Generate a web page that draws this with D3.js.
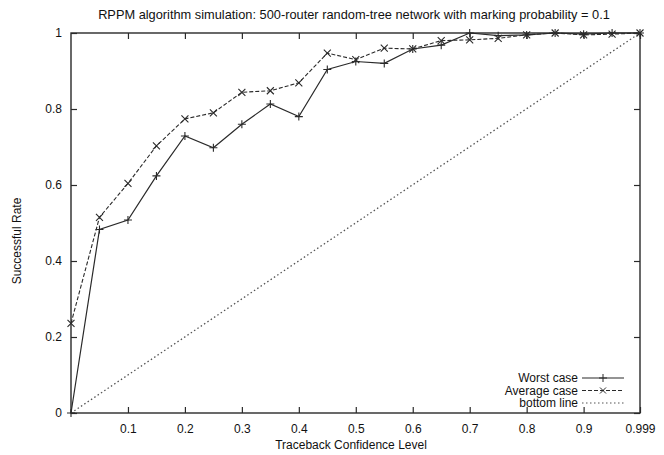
<!DOCTYPE html>
<html>
<head>
<meta charset="utf-8">
<script src="https://cdn.jsdelivr.net/npm/d3@7"></script>
<style>
  body { margin: 0; background: #fff; }
  svg { display: block; font-family: "Liberation Sans", Arial, sans-serif; }
</style>
</head>
<body>
<div id="chart"></div>
<script>
// confidence levels (x) and success rates
const levels = [0, 0.05, 0.1, 0.15, 0.2, 0.25, 0.3, 0.35, 0.4, 0.45, 0.5, 0.55, 0.6, 0.65, 0.7, 0.75, 0.8, 0.85, 0.9, 0.95, 0.999];
const worstCase = [0, 0.483, 0.508, 0.624, 0.729, 0.698, 0.76, 0.813, 0.78, 0.904, 0.925, 0.92, 0.958, 0.968, 1.0, 0.993, 0.995, 1.0, 0.997, 1.0, 1.0];
const averageCase = [0.236, 0.515, 0.604, 0.703, 0.774, 0.79, 0.844, 0.848, 0.869, 0.947, 0.93, 0.96, 0.958, 0.98, 0.982, 0.986, 0.995, 1.0, 0.995, 0.997, 1.0];
const bottomLine = [[0, 0], [0.999, 1]];
const xTicks = [0.1, 0.2, 0.3, 0.4, 0.5, 0.6, 0.7, 0.8, 0.9, 0.999];
const yTicks = [0, 0.2, 0.4, 0.6, 0.8, 1];

const W = 664, H = 455;
const margin = { top: 33, right: 24, bottom: 42, left: 71 };
const w = W - margin.left - margin.right;
const h = H - margin.top - margin.bottom;
const ink = '#2a2a2a';
const fs = 12;

const svg = d3.select('#chart').append('svg')
  .attr('width', W).attr('height', H)
  .attr('viewBox', `0 0 ${W} ${H}`);

const g = svg.append('g').attr('transform', `translate(${margin.left},${margin.top})`);

const x = d3.scaleLinear().domain([0, 0.999]).range([0, w]);
const y = d3.scaleLinear().domain([0, 1]).range([h, 0]);

// axes: ticks point inward, mirrored on top/right
function styleAxis(sel) {
  sel.select('.domain').remove();
  sel.selectAll('line').attr('stroke', ink).attr('stroke-width', 1.2);
  sel.selectAll('text').attr('fill', '#111').attr('font-size', fs);
}
g.append('g').attr('transform', `translate(0,${h})`)
  .call(d3.axisBottom(x).tickValues(xTicks).tickFormat(d => d === 0.999 ? '0.999' : d3.format('.1f')(d))
    .tickSizeInner(-6).tickSizeOuter(0).tickPadding(11))
  .call(styleAxis);
g.append('g')
  .call(d3.axisTop(x).tickValues(xTicks).tickFormat('').tickSizeInner(-6).tickSizeOuter(0))
  .call(styleAxis);
g.append('g')
  .call(d3.axisLeft(y).tickValues(yTicks).tickFormat(d => d === 0 || d === 1 ? String(d) : d3.format('.1f')(d))
    .tickSizeInner(-6).tickSizeOuter(0).tickPadding(9))
  .call(styleAxis);
g.append('g').attr('transform', `translate(${w},0)`)
  .call(d3.axisRight(y).tickValues(yTicks).tickFormat('').tickSizeInner(-6).tickSizeOuter(0))
  .call(styleAxis);

g.append('rect').attr('width', w).attr('height', h)
  .attr('fill', 'none').attr('stroke', ink).attr('stroke-width', 1.4);

const line = d3.line().x(d => x(d[0])).y(d => y(d[1]));

// bottom line
g.append('path').datum(bottomLine)
  .attr('fill', 'none').attr('stroke', '#555').attr('stroke-width', 1.3)
  .attr('stroke-dasharray', '1.5,2.5').attr('d', line);

// average case (dashed, x markers)
const avgPts = levels.map((l, i) => [l, averageCase[i]]);
g.append('path').datum(avgPts)
  .attr('fill', 'none').attr('stroke', ink).attr('stroke-width', 1.1)
  .attr('stroke-dasharray', '4,2').attr('d', line);
const ms = 3.5;
g.append('g').selectAll('path').data(avgPts).enter().append('path')
  .attr('stroke', ink).attr('stroke-width', 1.1)
  .attr('d', d => `M${x(d[0]) - ms},${y(d[1]) - ms}L${x(d[0]) + ms},${y(d[1]) + ms}M${x(d[0]) - ms},${y(d[1]) + ms}L${x(d[0]) + ms},${y(d[1]) - ms}`);

// worst case (solid, + markers)
const worstPts = levels.map((l, i) => [l, worstCase[i]]);
g.append('path').datum(worstPts)
  .attr('fill', 'none').attr('stroke', ink).attr('stroke-width', 1.2).attr('d', line);
g.append('g').selectAll('path').data(worstPts).enter().append('path')
  .attr('stroke', ink).attr('stroke-width', 1.1)
  .attr('d', d => `M${x(d[0]) - 4},${y(d[1])}L${x(d[0]) + 4},${y(d[1])}M${x(d[0])},${y(d[1]) - 4}L${x(d[0])},${y(d[1]) + 4}`);

// legend
const legend = [
  { label: 'Worst case', dash: null, mark: 'plus' },
  { label: 'Average case', dash: '4,2', mark: 'cross' },
  { label: 'bottom line', dash: '1.5,2.5', mark: null },
];
const lg = svg.append('g').attr('transform', 'translate(578,378)');
legend.forEach((d, i) => {
  const row = lg.append('g').attr('transform', `translate(0,${i * 12.5})`);
  row.append('text').attr('x', 0).attr('y', 4).attr('text-anchor', 'end')
    .attr('font-size', fs).attr('fill', '#111').text(d.label);
  row.append('line').attr('x1', 4).attr('x2', 46).attr('y1', 0).attr('y2', 0)
    .attr('stroke', d.mark ? ink : '#555').attr('stroke-width', 1.1)
    .attr('stroke-dasharray', d.dash);
  if (d.mark === 'plus') {
    row.append('path').attr('stroke', ink).attr('d', 'M21,0L29,0M25,-4L25,4');
  } else if (d.mark === 'cross') {
    row.append('path').attr('stroke', ink).attr('d', 'M22,-3L28,3M22,3L28,-3');
  }
});

// title and axis labels
svg.append('text').attr('x', 354).attr('y', 19).attr('text-anchor', 'middle')
  .attr('font-size', 12.8).attr('fill', '#111')
  .text('RPPM algorithm simulation: 500-router random-tree network with marking probability = 0.1');
svg.append('text').attr('x', 351).attr('y', 449).attr('text-anchor', 'middle')
  .attr('font-size', fs).attr('fill', '#111').text('Traceback Confidence Level');
svg.append('text').attr('transform', 'translate(21,241) rotate(-90)').attr('text-anchor', 'middle')
  .attr('font-size', fs).attr('fill', '#111').text('Successful Rate');
</script>
</body>
</html>
